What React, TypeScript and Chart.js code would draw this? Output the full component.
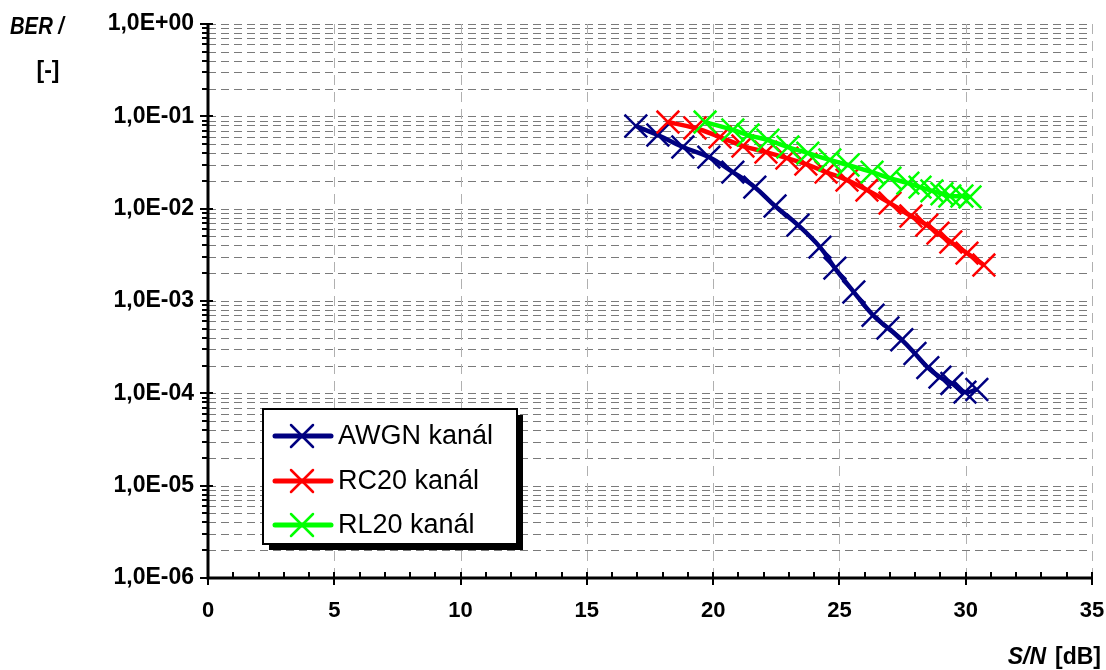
import React, { useEffect, useRef } from "react";
import { Chart, registerables } from "chart.js";

Chart.register(...registerables);

const FONT = "'Liberation Sans', Arial, sans-serif";

// AWGN channel
const awgnSnr = [16.94, 17.81, 18.8, 19.83, 20.78, 21.65, 22.45, 23.36, 24.23, 24.82, 25.57, 26.33, 26.92, 27.47, 27.99, 28.5, 28.98, 29.45, 29.97, 30.44];
const awgnBer = [0.0785, 0.0627, 0.0465, 0.0362, 0.0249, 0.0171, 0.0107, 0.00664, 0.00383, 0.00227, 0.00125, 0.0007, 0.00051, 0.00038, 0.00027, 0.00019, 0.00015, 0.000128, 0.000103, 0.00011];

// RC20 channel
const rc20Snr = [18.21, 19.28, 20.27, 21.18, 22.09, 22.92, 23.67, 24.47, 25.3, 26.09, 27.0, 27.83, 28.46, 28.9, 29.41, 30.05, 30.72];
const rc20Ber = [0.0867, 0.0747, 0.0597, 0.0477, 0.041, 0.0353, 0.0304, 0.0249, 0.0204, 0.0159, 0.0115, 0.00832, 0.00664, 0.00544, 0.00435, 0.0033, 0.00245];

// RL20 channel
const rl20Snr = [19.68, 20.78, 21.38, 22.17, 22.96, 23.75, 24.62, 25.34, 26.29, 27.0, 27.71, 28.19, 28.66, 29.06, 29.37, 29.85, 30.17];
const rl20Ber = [0.0867, 0.0713, 0.0627, 0.0553, 0.0465, 0.04, 0.0337, 0.0297, 0.0249, 0.0214, 0.0189, 0.0171, 0.0156, 0.0145, 0.0137, 0.0137, 0.0134];

const seriesNames = ["AWGN kanál", "RC20 kanál", "RL20 kanál"];
const seriesColors = ["#000080", "#ff0000", "#00ff00"];

const xMin = 0;
const xMax = 35;
const xStep = 5;
const yExpMin = -6;
const yExpMax = 0;

const yTickValues: number[] = [];
for (let e = yExpMin; e < yExpMax; e++) {
  for (let m = 1; m <= 9; m++) yTickValues.push(m * Math.pow(10, e));
}
yTickValues.push(Math.pow(10, yExpMax));

const isDecade = (v: number) => {
  const l = Math.log10(v);
  return Math.abs(l - Math.round(l)) < 1e-9;
};

const formatDecade = (v: number) => {
  const e = Math.round(Math.log10(v));
  const sign = e < 0 ? "-" : "+";
  const a = Math.abs(e);
  return "1,0E" + sign + (a < 10 ? "0" : "") + a;
};

const toPoints = (xs: number[], ys: number[]) => xs.map((x, i) => ({ x, y: ys[i] }));

const decorPlugin = {
  id: "decor",
  beforeDatasetsDraw(chart: any) {
    const { ctx, chartArea } = chart;
    const xs = chart.scales.x;
    const ys = chart.scales.y;
    ctx.save();
    ctx.strokeStyle = "#7a7a7a";
    ctx.lineWidth = 1;
    ctx.setLineDash([8, 5]);
    for (const v of yTickValues) {
      const y = Math.round(ys.getPixelForValue(v)) + 0.5;
      if (y > chartArea.bottom - 2) continue;
      ctx.beginPath();
      ctx.moveTo(chartArea.left, y);
      ctx.lineTo(chartArea.right, y);
      ctx.stroke();
    }
    ctx.strokeStyle = "#b0b0b0";
    ctx.setLineDash([10, 7]);
    for (let v = xMin + xStep; v <= xMax; v += xStep) {
      const x = Math.round(xs.getPixelForValue(v)) + 0.5;
      ctx.beginPath();
      ctx.moveTo(x, chartArea.top);
      ctx.lineTo(x, chartArea.bottom);
      ctx.stroke();
    }
    ctx.restore();
  },
  afterDraw(chart: any) {
    const { ctx, chartArea } = chart;
    const xs = chart.scales.x;
    const ys = chart.scales.y;
    const L = chartArea.left;
    const B = chartArea.bottom;
    ctx.save();
    ctx.setLineDash([]);
    ctx.strokeStyle = "#000";
    ctx.lineWidth = 3;
    ctx.beginPath();
    ctx.moveTo(L, chartArea.top - 1);
    ctx.lineTo(L, B);
    ctx.lineTo(chartArea.right, B);
    ctx.stroke();
    ctx.lineWidth = 2;
    for (const v of yTickValues) {
      const y = Math.round(ys.getPixelForValue(v));
      ctx.beginPath();
      if (isDecade(v)) {
        ctx.moveTo(L - 8, y);
        ctx.lineTo(L + 5, y);
      } else {
        ctx.moveTo(L - 6, y);
        ctx.lineTo(L, y);
      }
      ctx.stroke();
    }
    for (let v = xMin; v <= xMax; v += 1) {
      const x = Math.round(xs.getPixelForValue(v));
      ctx.beginPath();
      if (v % xStep === 0) {
        ctx.moveTo(x, B - 6);
        ctx.lineTo(x, B + 7);
      } else {
        ctx.moveTo(x, B - 6);
        ctx.lineTo(x, B);
      }
      ctx.stroke();
    }

    // axis titles
    ctx.fillStyle = "#000";
    ctx.textBaseline = "alphabetic";
    ctx.textAlign = "left";
    ctx.font = "italic bold 23px " + FONT;
    ctx.fillText("BER /", 10, 34, 54);
    ctx.font = "bold 23px " + FONT;
    ctx.textAlign = "center";
    ctx.fillText("[-]", 48, 78);

    ctx.textAlign = "left";
    ctx.font = "bold 23px " + FONT;
    const dbText = "[dB]";
    const dbW = ctx.measureText(dbText).width;
    ctx.font = "italic bold 23px " + FONT;
    const snText = "S/N";
    const snW = ctx.measureText(snText).width;
    const right = 1101;
    const gap = 9;
    const startX = right - dbW - gap - snW;
    ctx.fillText(snText, startX, 664);
    ctx.font = "bold 23px " + FONT;
    ctx.fillText(dbText, startX + snW + gap, 664);

    // legend
    const lx = L + 55;
    const ly = 409;
    const lw = 254;
    const lh = 135;
    ctx.fillStyle = "#000";
    ctx.fillRect(lx + 6, ly + 6, lw, lh);
    ctx.fillStyle = "#fff";
    ctx.fillRect(lx, ly, lw, lh);
    ctx.strokeStyle = "#000";
    ctx.lineWidth = 2;
    ctx.strokeRect(lx, ly, lw, lh);
    const rows = [ly + 27, ly + 72, ly + 116];
    ctx.font = "27px " + FONT;
    ctx.textBaseline = "middle";
    ctx.textAlign = "left";
    for (let i = 0; i < seriesNames.length; i++) {
      const y = rows[i];
      ctx.strokeStyle = seriesColors[i];
      ctx.lineWidth = 5;
      ctx.lineCap = "round";
      ctx.beginPath();
      ctx.moveTo(lx + 12, y);
      ctx.lineTo(lx + 68, y);
      ctx.stroke();
      ctx.lineWidth = 2.5;
      const r = 11;
      const cx = lx + 39;
      ctx.beginPath();
      ctx.moveTo(cx - r, y - r);
      ctx.lineTo(cx + r, y + r);
      ctx.moveTo(cx - r, y + r);
      ctx.lineTo(cx + r, y - r);
      ctx.stroke();
      ctx.fillStyle = "#000";
      ctx.fillText(seriesNames[i], lx + 75, y + 1, 165);
    }
    ctx.restore();
  },
};

export default function App() {
  const ref = useRef<HTMLCanvasElement | null>(null);
  useEffect(() => {
    if (!ref.current) return;
    const mk = (i: number, xs: number[], ys: number[], order: number) => ({
      label: seriesNames[i],
      data: toPoints(xs, ys),
      borderColor: seriesColors[i],
      backgroundColor: seriesColors[i],
      borderWidth: 4.5,
      pointStyle: "crossRot",
      pointRadius: 16,
      pointHoverRadius: 16,
      pointBorderWidth: 2.5,
      pointBorderColor: seriesColors[i],
      tension: 0.4,
      fill: false,
      order,
    });
    const chart = new Chart(ref.current, {
      type: "line",
      data: {
        datasets: [
          mk(0, awgnSnr, awgnBer, 2),
          mk(1, rc20Snr, rc20Ber, 1),
          mk(2, rl20Snr, rl20Ber, 0),
        ] as any,
      },
      options: {
        animation: false,
        responsive: false,
        devicePixelRatio: 1,
        layout: { autoPadding: false, padding: { left: 0, top: 24, right: 14, bottom: 0 } },
        plugins: { legend: { display: false }, tooltip: { enabled: false } },
        scales: {
          x: {
            type: "linear",
            min: xMin,
            max: xMax,
            ticks: {
              stepSize: xStep,
              color: "#000",
              padding: 20,
              font: { family: FONT, size: 22, weight: "bold" },
            },
            grid: { display: false, drawTicks: false },
            border: { display: false },
            afterFit: (s: any) => {
              s.height = 92;
              s.paddingLeft = 0;
              s.paddingRight = 0;
            },
          },
          y: {
            type: "logarithmic",
            min: Math.pow(10, yExpMin),
            max: Math.pow(10, yExpMax),
            afterBuildTicks: (s: any) => {
              s.ticks = yTickValues.map((v) => ({ value: v }));
            },
            ticks: {
              autoSkip: false,
              color: "#000",
              padding: 14,
              font: { family: FONT, size: 23, weight: "bold" },
              callback: (v: any) => (isDecade(Number(v)) ? formatDecade(Number(v)) : ""),
            },
            grid: { display: false, drawTicks: false },
            border: { display: false },
            afterFit: (s: any) => {
              s.width = 208;
              s.paddingTop = 0;
              s.paddingBottom = 0;
            },
          },
        } as any,
      },
      plugins: [decorPlugin as any],
    });
    return () => chart.destroy();
  }, []);
  return (
    <div style={{ position: "fixed", left: 0, top: 0, width: 1106, height: 670, background: "#fff" }}>
      <canvas ref={ref} width={1106} height={670} style={{ display: "block" }} />
    </div>
  );
}
